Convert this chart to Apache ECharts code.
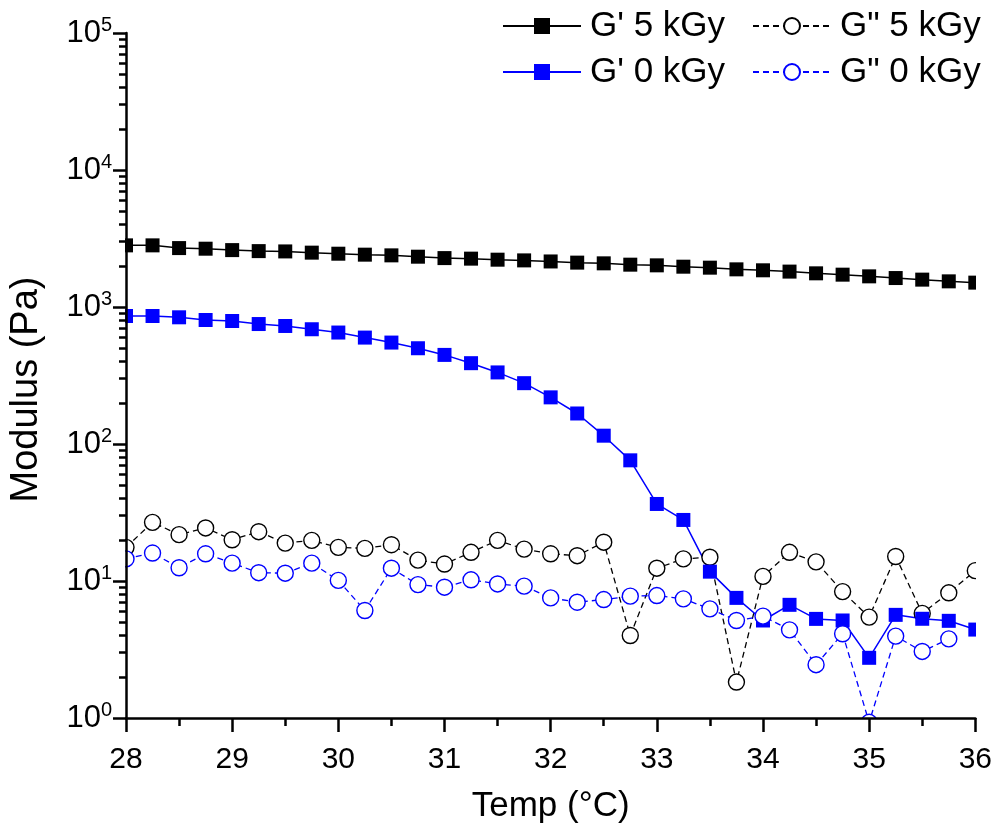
<!DOCTYPE html>
<html>
<head>
<meta charset="utf-8">
<script src="https://cdn.jsdelivr.net/npm/echarts@6/dist/echarts.min.js"></script>
<style>
html,body{margin:0;padding:0;background:#fff;}
#chart{width:995px;height:829px;}
</style>
</head>
<body>
<div id="chart"></div>
<script>
// Temperature (°C)
const temps = [28, 28.25, 28.5, 28.75, 29, 29.25, 29.5, 29.75, 30, 30.25, 30.5, 30.75, 31, 31.25, 31.5, 31.75, 32,
               32.25, 32.5, 32.75, 33, 33.25, 33.5, 33.75, 34, 34.25, 34.5, 34.75, 35, 35.25, 35.5, 35.75, 36];
// G' 5 kGy (Pa)
const gp5 = [2818, 2818, 2692, 2664, 2602, 2558, 2545, 2493, 2449, 2410, 2382, 2329, 2275, 2254, 2215, 2189, 2150,
             2108, 2083, 2037, 2014, 1969, 1937, 1883, 1853, 1813, 1761, 1722, 1674, 1627, 1584, 1539, 1506];
// G" 5 kGy (Pa)
const gpp5 = [17.6, 26.8, 21.8, 24.4, 20.0, 22.9, 18.9, 19.8, 17.6, 17.3, 18.4, 14.2, 13.3, 16.2, 19.8, 17.1, 15.8,
              15.3, 19.2, 4.0, 12.4, 14.5, 14.9, 1.83, 10.8, 16.2, 13.8, 8.37, 5.45, 15.1, 5.8, 8.2, 11.9];
// G' 0 kGy (Pa)
const gp0 = [860, 860, 841, 804, 790, 751, 727, 688, 651, 598, 550, 500, 447, 389, 333, 278, 219,
             167, 115, 76, 36.5, 27.9, 11.7, 7.53, 5.15, 6.70, 5.29, 5.15, 2.75, 5.66, 5.30, 5.12, 4.42];
// G" 0 kGy (Pa)
const gpp0 = [14.5, 16.0, 12.5, 15.8, 13.5, 11.5, 11.4, 13.5, 10.1, 6.09, 12.4, 9.41, 9.01, 10.2, 9.52, 9.17, 7.53,
              7.0, 7.32, 7.75, 7.83, 7.41, 6.26, 5.15, 5.54, 4.40, 2.45, 4.12, 0.93, 3.96, 3.06, 3.78, null];
const seriesNames = ["G' 5 kGy", 'G" 5 kGy', "G' 0 kGy", 'G" 0 kGy'];

const W = 995, H = 829;
const G = {left: 125, right: 19, top: 33, bottom: 110};
const FONT = "'Liberation Sans', Arial, sans-serif";

function pairs(arr) { return temps.map((t, i) => [t, arr[i]]); }

// minor tick positions for log axis (log10 of 2..9 per decade)
const minorLog = [];
for (let d = 0; d < 5; d++) for (let m = 2; m <= 9; m++) minorLog.push(d + Math.log10(m));

const chart = echarts.init(document.getElementById('chart'), null, {renderer: 'canvas'});

function solidSeries(name, data, color) {
  return {
    name, type: 'line', data: pairs(data), clip: false,
    symbol: 'rect', symbolSize: 14,
    lineStyle: {color, width: 1.5, type: 'solid'},
    itemStyle: {color, borderColor: color, borderWidth: 0},
    emphasis: {disabled: true}, animation: false
  };
}
function dashSeries(name, data, color) {
  return {
    name, type: 'line', data: pairs(data), clip: false, connectNulls: false,
    symbol: 'circle', symbolSize: 16,
    lineStyle: {color, width: 1.3, type: [6, 4]},
    itemStyle: {color: '#ffffff', borderColor: color, borderWidth: 1.4},
    emphasis: {disabled: true}, animation: false
  };
}

const legendCommon = {
  orient: 'vertical', itemWidth: 78, itemHeight: 20, itemGap: 10, z: 60, padding: 0,
  textStyle: {fontFamily: FONT, fontSize: 35, color: '#000', lineHeight: 36, padding: [0, 0, 0, 4]},
  selectedMode: false
};

chart.setOption({
  animation: false,
  backgroundColor: '#ffffff',
  grid: {left: G.left, right: G.right, top: G.top, bottom: G.bottom, containLabel: false},
  legend: [
    Object.assign({}, legendCommon, {left: 502, top: 8, data: [seriesNames[0], seriesNames[2]]}),
    Object.assign({}, legendCommon, {left: 752, top: 8, data: [seriesNames[1], seriesNames[3]]})
  ],
  xAxis: {
    type: 'value', min: 28, max: 36, interval: 1, z: 60,
    name: 'Temp (°C)', nameLocation: 'middle', nameGap: 71,
    nameTextStyle: {fontFamily: FONT, fontSize: 35, color: '#000'},
    axisLine: {show: true, onZero: false, lineStyle: {color: '#000', width: 2.5}},
    axisTick: {show: true, length: 14, lineStyle: {color: '#000', width: 2.5}},
    minorTick: {show: true, splitNumber: 2, length: 8, lineStyle: {color: '#000', width: 2.5}},
    axisLabel: {fontFamily: FONT, fontSize: 30, color: '#000', margin: 27},
    splitLine: {show: false}, minorSplitLine: {show: false}
  },
  yAxis: [
    {
      type: 'log', logBase: 10, min: 1, max: 100000, position: 'left', z: 60,
      name: 'Modulus (Pa)', nameLocation: 'middle', nameGap: 80,
      nameTextStyle: {fontFamily: FONT, fontSize: 38, color: '#000', padding: [0, 28, 0, 0]},
      axisLine: {show: true, onZero: false, lineStyle: {color: '#000', width: 2.5}},
      axisTick: {show: true, length: 13, lineStyle: {color: '#000', width: 2.5}},
      axisLabel: {
        margin: 14, fontFamily: FONT, color: '#000',
        formatter: function (v) {
          const e = Math.round(Math.log10(v));
          return '{b|10}{s|' + e + '}';
        },
        rich: {
          b: {fontFamily: FONT, fontSize: 31, color: '#000', lineHeight: 36},
          s: {fontFamily: FONT, fontSize: 20, color: '#000', lineHeight: 20, verticalAlign: 'top'}
        }
      },
      splitLine: {show: false}
    },
    {
      type: 'value', min: 0, max: 5, position: 'left', z: 60,
      axisLine: {show: false},
      axisLabel: {show: false},
      axisTick: {show: true, length: 7, customValues: minorLog, lineStyle: {color: '#000', width: 2.5}},
      splitLine: {show: false}
    }
  ],
  graphic: {
    elements: [
      {type: 'rect', z: 50, silent: true, shape: {x: 0, y: 0, width: G.left, height: H}, style: {fill: '#ffffff'}},
      {type: 'rect', z: 50, silent: true, shape: {x: W - G.right, y: 0, width: G.right, height: H}, style: {fill: '#ffffff'}},
      {type: 'rect', z: 50, silent: true, shape: {x: 0, y: H - G.bottom, width: W, height: G.bottom}, style: {fill: '#ffffff'}}
    ]
  },
  series: [
    solidSeries(seriesNames[0], gp5, '#000000'),
    dashSeries(seriesNames[1], gpp5, '#000000'),
    solidSeries(seriesNames[2], gp0, '#0000ff'),
    dashSeries(seriesNames[3], gpp0, '#0000ff')
  ]
});
</script>
</body>
</html>
